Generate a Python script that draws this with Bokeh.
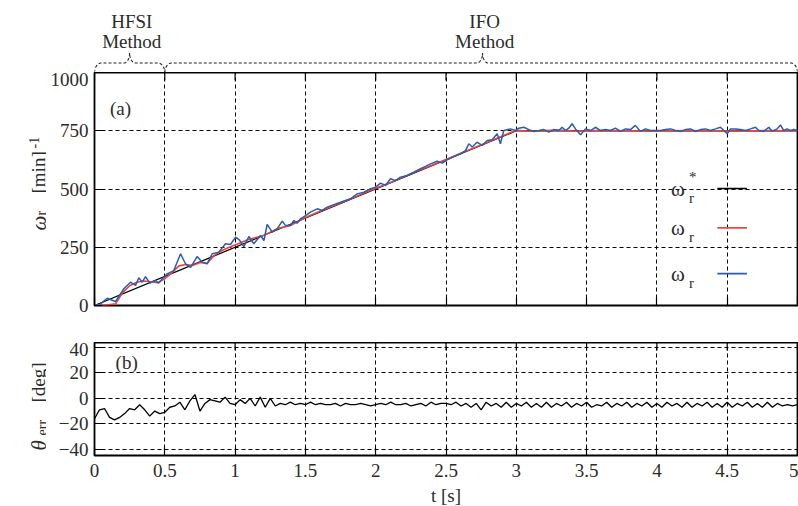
import numpy as np
from bokeh.plotting import figure
from bokeh.layouts import column, row
from bokeh.models import Range1d, Label, Arrow, FixedTicker, CustomJSTickFormatter
from bokeh.embed import file_html
from bokeh.resources import INLINE

# ---------------- data ----------------
ref_t = [0.0, 3.0, 5.0]
ref_speed = [0, 750, 750]

red_t = [0.0, 0.05, 0.1, 0.15, 0.2, 0.25, 0.3, 0.35, 0.4, 0.45, 0.5, 0.55, 0.6, 0.65, 0.7,
         0.75, 0.8, 0.85, 0.9, 0.95, 1.0,
         1.1, 1.2, 1.3, 1.4, 1.5, 1.6, 1.7, 1.8, 1.9, 2.0, 2.1, 2.2, 2.3, 2.4, 2.5, 2.6, 2.7,
         2.8, 2.9, 3.0,
         3.1, 3.2, 3.3, 3.4, 3.6, 3.8, 4.0, 4.2, 4.4, 4.6, 4.8, 5.0]
red_speed = [0, 0, 3, 7, 55, 85, 100, 105, 102, 98, 115, 140, 170, 176, 172,
             185, 180, 214, 234, 248, 260,
             284, 300, 330, 345, 378, 403, 428, 452, 478, 503, 527, 552, 578, 602, 627, 652, 677,
             702, 727, 752,
             748, 751, 753, 749, 751, 750, 749, 751, 750, 749, 751, 750]

blue_t = [0.0, 0.043, 0.09, 0.149, 0.209, 0.256, 0.292, 0.315, 0.339, 0.363, 0.393, 0.434,
          0.457, 0.481, 0.517, 0.564, 0.612, 0.647, 0.683, 0.73, 0.766, 0.801, 0.837, 0.884,
          0.932, 0.967, 1.003, 1.03, 1.062, 1.098, 1.133, 1.181, 1.205, 1.228, 1.264, 1.299,
          1.335, 1.359, 1.394, 1.418, 1.441, 1.465, 1.501, 1.536, 1.584, 1.62, 1.655, 1.702,
          1.75, 1.785, 1.821, 1.868, 1.916, 1.963, 2.0, 2.034, 2.07, 2.105, 2.141, 2.176,
          2.224, 2.271, 2.319, 2.354, 2.39, 2.437, 2.473, 2.508, 2.556, 2.603, 2.639, 2.662,
          2.686, 2.721, 2.757, 2.793, 2.828, 2.864, 2.887, 2.911, 2.958, 2.994, 3.018, 3.054,
          3.089, 3.125, 3.161, 3.196, 3.231, 3.267, 3.302, 3.326, 3.35, 3.373, 3.397, 3.421,
          3.457, 3.492, 3.528, 3.563, 3.599, 3.634, 3.67, 3.705, 3.741, 3.776, 3.812, 3.847,
          3.883, 3.918, 3.954, 3.99, 4.026, 4.061, 4.097, 4.132, 4.168, 4.203, 4.239, 4.274,
          4.31, 4.346, 4.381, 4.417, 4.452, 4.476, 4.5, 4.523, 4.559, 4.595, 4.63, 4.666,
          4.701, 4.725, 4.76, 4.796, 4.82, 4.855, 4.879, 4.902, 4.926, 4.95, 4.974, 5.0]
blue_speed = [0, 7, 31, 17, 72, 100, 86, 119, 100, 124, 96, 107,
              96, 114, 136, 150, 222, 179, 164, 210, 186, 179, 222, 229,
              265, 262, 293, 282, 253, 296, 265, 300, 279, 348, 315, 329,
              362, 343, 343, 365, 353, 372, 386, 401, 415, 408, 422, 433,
              443, 451, 458, 479, 486, 501, 508, 525, 515, 544, 536, 551,
              558, 572, 587, 597, 608, 619, 611, 625, 639, 651, 665, 694,
              680, 701, 687, 708, 711, 737, 694, 751, 758, 751, 761, 765,
              755, 747, 751, 755, 744, 755, 751, 765, 751, 761, 780, 758,
              733, 758, 751, 765, 751, 755, 751, 761, 747, 758, 755, 773,
              747, 758, 751, 751, 751, 755, 758, 751, 747, 755, 758, 747,
              755, 758, 751, 758, 765, 751, 737, 758, 758, 755, 751, 758,
              765, 751, 747, 765, 747, 758, 775, 751, 758, 751, 755, 751]

theta_t = list(np.linspace(0.0, 5.0, 141))  # sample instants, 1/28 s apart
theta_err = [-16, -9, -8, -15, -17, -15, -12, -8, -9, -5,
             -9, -14, -10, -12, -11, -7, -6, -3, -9, -2,
             3, -10, -4, -1, -2, -3, 1, -4, -5, -1,
             -4, 0, -6, 1, -7, 0, -6, -4, -5, -3,
             -5,
             -4, -5, -3, -5, -4, -5, -5, -4, -6, -4,
             -5, -5, -4, -5, -6, -5, -4, -5, -3, -5,
             -5, -4, -6, -5, -4, -6, -3, -5, -4,
             -4, -5, -3, -6, -4, -7, -4, -9, -3, -6,
             -4, -7, -3, -7, -4, -6, -3, -7, -4, -7,
             -3, -7, -4, -6, -3, -7, -4, -6, -3, -7,
             -5, -6, -3, -7, -4, -6, -3, -7, -4, -6,
             -3, -7, -4, -7, -3, -6, -4, -7, -3, -7,
             -4, -6, -3, -7, -4, -7, -3, -7, -4, -6,
             -3, -7, -4, -7, -3, -7, -4, -6, -5, -6,
             -5]

x_ticks = [0, 0.5, 1, 1.5, 2, 2.5, 3, 3.5, 4, 4.5, 5]
x_tick_labels = ["0", "0.5", "1", "1.5", "2", "2.5", "3", "3.5", "4", "4.5", "5"]
speed_ticks = [0, 250, 500, 750, 1000]
theta_ticks = [-40, -20, 0, 20, 40]

method_names = ["HFSI", "IFO"]
method_spans = [(0.0, 0.5), (0.5, 5.0)]
method_tips = [0.25, 2.76]

# ---------------- style / layout ----------------
FONT = "Liberation Serif"
FS = "19px"
TXT = "#2b2b2b"
RED = "#f04438"
BLUE = "#2a5bb5"
STRIP_W = 46          # strip holding the rotated axis titles
LEFT = 48             # room for tick labels
FRAME_W = 703
TOP_H = 72            # brace band
B_FRAME_H = 233
B_GAP = 37
C_FRAME_H = 113
C_BOTTOM = 51
TICK_LEN = 8

xr = Range1d(0, 5)


def style_axes(p, yticks, yrange_span, frame_h):
    p.xaxis.ticker = FixedTicker(ticks=x_ticks)
    p.yaxis.ticker = FixedTicker(ticks=yticks)
    p.xaxis.major_label_overrides = {t: s for t, s in zip(x_ticks, x_tick_labels)}
    for ax in p.axis:
        ax.axis_line_color = None
        ax.major_tick_in = TICK_LEN
        ax.major_tick_out = 0
        ax.minor_tick_line_color = None
        ax.major_tick_line_color = "black"
        ax.major_tick_line_width = 1.2
        ax.major_label_text_font = FONT
        ax.major_label_text_font_size = FS
        ax.major_label_text_color = TXT
    p.yaxis.major_label_standoff = 6
    p.xaxis.major_label_standoff = 8
    p.xgrid.ticker = FixedTicker(ticks=x_ticks)
    p.ygrid.ticker = FixedTicker(ticks=yticks)
    p.grid.grid_line_color = "black"
    p.grid.grid_line_dash = "4 3"
    p.grid.grid_line_width = 1
    p.outline_line_color = "black"
    p.outline_line_width = 1.8
    # inward ticks along the top edge
    top = p.y_range.end
    tick_units = TICK_LEN * yrange_span / frame_h
    p.segment(x0=x_ticks, y0=[top] * len(x_ticks), x1=x_ticks,
              y1=[top - tick_units] * len(x_ticks), line_color="black", line_width=1.2)


def strip(height):
    s = figure(frame_width=STRIP_W, frame_height=height, x_range=Range1d(0, STRIP_W),
               y_range=Range1d(0, height), output_backend="svg", toolbar_location=None,
               x_axis_location=None, y_axis_location=None, min_border=0)
    s.grid.visible = False
    s.outline_line_color = None
    return s


def vlabel(s, x, y, text, size, style="normal"):
    s.add_layout(Label(x=x, y=y, text=text, angle=np.pi / 2,
                       text_font=FONT, text_font_size=size, text_font_style=style,
                       text_color=TXT, text_align="left", text_baseline="alphabetic"))


# ---------------- braces band ----------------
pa = figure(frame_width=FRAME_W, frame_height=TOP_H, x_range=xr, y_range=Range1d(0, TOP_H),
            output_backend="svg", toolbar_location=None,
            x_axis_location=None, y_axis_location=None,
            min_border_left=STRIP_W + LEFT, min_border_right=1, min_border_top=0,
            min_border_bottom=0)
pa.grid.visible = False
pa.outline_line_color = None


def brace_path(x0, x1, xm, w_end, w_tip, h, H, n=14):
    th = np.linspace(0, np.pi / 2, n)
    xs = list(x0 + w_end - w_end * np.cos(th))
    ys = list(h * np.sin(th))
    xs += list(xm - w_tip + w_tip * np.sin(th))
    ys += list(H - (H - h) * np.cos(th))
    xs += list(xm + w_tip - w_tip * np.cos(th))
    ys += list(H - (H - h) * np.sin(th))
    xs += list(x1 - w_end + w_end * np.sin(th))
    ys += list(h * np.cos(th))
    return xs, ys


for name, (a, b), tip in zip(method_names, method_spans, method_tips):
    bx, by = brace_path(a, b, tip, 0.05, 0.04, 9.5, 19.5)
    pa.line(bx, by, line_color="#222222", line_width=1.1, line_dash="3 2")
    pa.add_layout(Label(x=tip + 0.015, y=51, text=name, text_font=FONT, text_font_size=FS,
                        text_color=TXT, text_align="center", text_baseline="middle"))
    pa.add_layout(Label(x=tip + 0.015, y=31, text="Method", text_font=FONT, text_font_size=FS,
                        text_color=TXT, text_align="center", text_baseline="middle"))

# ---------------- speed panel ----------------
pb = figure(frame_width=FRAME_W, frame_height=B_FRAME_H, x_range=xr, y_range=Range1d(0, 1000),
            output_backend="svg", toolbar_location=None,
            min_border_left=LEFT, min_border_right=1, min_border_top=0,
            min_border_bottom=B_GAP)
style_axes(pb, speed_ticks, 1000, B_FRAME_H)
pb.xaxis[0].formatter = CustomJSTickFormatter(code="return ''")
pb.xaxis[0].major_label_text_font_size = "2px"
pb.xaxis[0].major_label_standoff = 0

pb.line(ref_t, ref_speed, line_color="black", line_width=1.3)
pb.line(red_t, red_speed, line_color=RED, line_width=1.6)
pb.line(blue_t, blue_speed, line_color=BLUE, line_width=1.5)

pb.add_layout(Label(x=0.11, y=845, text="(a)", text_font=FONT, text_font_size=FS,
                    text_color=TXT, text_baseline="middle"))

# legend
leg_x_text = 4.10
leg_x0, leg_x1 = 4.43, 4.64
leg_rows = [(502, "black", "*"), (333, RED, ""), (137, BLUE, "")]
for yrow, col, sup in leg_rows:
    pb.add_layout(Arrow(x_start=leg_x0, y_start=yrow, x_end=leg_x1, y_end=yrow, end=None,
                        line_color=col, line_width=1.6))
    pb.add_layout(Label(x=leg_x_text, y=yrow, text="ω", text_font=FONT, text_font_size="21px",
                        text_color=TXT, text_baseline="middle"))
    pb.add_layout(Label(x=leg_x_text, y=yrow, x_offset=18, y_offset=-9, text="r",
                        text_font=FONT, text_font_size="15px", text_color=TXT,
                        text_baseline="middle"))
    if sup:
        pb.add_layout(Label(x=leg_x_text, y=yrow, x_offset=18, y_offset=12, text=sup,
                            text_font=FONT, text_font_size="15px", text_color=TXT,
                            text_baseline="middle"))

sb = strip(B_FRAME_H + B_GAP)
vlabel(sb, 38, B_GAP + 75, "ω", "21px", "italic")
vlabel(sb, 41, B_GAP + 90, "r", "14px")
vlabel(sb, 38, B_GAP + 112, "[min]", FS)
vlabel(sb, 33, B_GAP + 157, "-1", "14px")

# ---------------- angle error panel ----------------
pc = figure(frame_width=FRAME_W, frame_height=C_FRAME_H, x_range=xr, y_range=Range1d(-45, 44),
            output_backend="svg", toolbar_location=None,
            min_border_left=LEFT, min_border_right=1, min_border_top=0,
            min_border_bottom=C_BOTTOM)
style_axes(pc, theta_ticks, 89, C_FRAME_H)
pc.xaxis.axis_label = "t [s]"
pc.xaxis.axis_label_text_font = FONT
pc.xaxis.axis_label_text_font_size = FS
pc.xaxis.axis_label_text_font_style = "normal"
pc.xaxis.axis_label_text_color = TXT
pc.xaxis.axis_label_standoff = 5
pc.line(theta_t, theta_err, line_color="black", line_width=1.3)
pc.add_layout(Label(x=0.15, y=28, text="(b)", text_font=FONT, text_font_size=FS,
                    text_color=TXT, text_baseline="middle"))

sc = strip(C_FRAME_H + C_BOTTOM)
vlabel(sc, 38, C_BOTTOM + 5, "θ", "21px", "italic")
vlabel(sc, 42, C_BOTTOM + 20, "err", "14px")
vlabel(sc, 38, C_BOTTOM + 53, "[deg]", FS)

layout = column(pa, row(sb, pb, spacing=0), row(sc, pc, spacing=0), spacing=0)
open("out.html", "w").write(file_html(layout, INLINE))
